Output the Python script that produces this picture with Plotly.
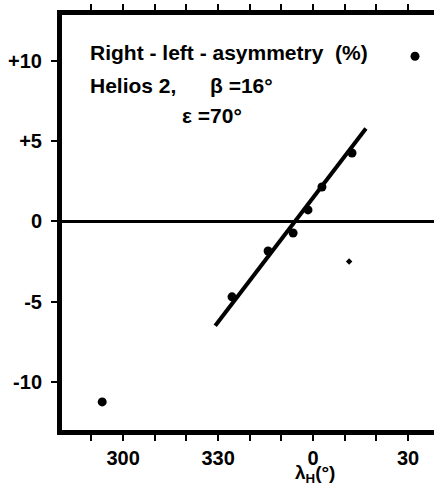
import plotly.graph_objects as go

# Data (ecliptic longitude lambda_H in degrees, asymmetry in %)
lam_obs = [293.4, 334.4, 345.8, 353.7, 358.4, 2.8, 12.3, 32.2]
asym_obs = [-11.25, -4.7, -1.84, -0.72, 0.72, 2.15, 4.27, 10.3]
lam_extra = [11.4]
asym_extra = [-2.5]
fit_lam = [329.1, 16.7]
fit_asym = [-6.5, 5.8]

xtick_vals = [300, 330, 0, 30]
xtick_text = ["300", "330", "0", "30"]
xminor_vals = [290, 310, 320, 340, 350, 10, 20]
ytick_vals = [10, 5, 0, -5, -10]
ytick_text = ["+10", "+5", "0", "-5", "-10"]


def unwrap(l):
    return l + 360 if l < 180 else l


FONT = "Liberation Sans"
TICKFONT = dict(family=FONT, size=20, color="black", weight="bold")

fig = go.Figure()
fig.add_trace(go.Scatter(
    x=[unwrap(v) for v in fit_lam], y=fit_asym, mode="lines",
    line=dict(color="black", width=4), hoverinfo="skip"))
fig.add_trace(go.Scatter(
    x=[unwrap(v) for v in lam_obs], y=asym_obs, mode="markers",
    marker=dict(color="black", size=9)))
fig.add_trace(go.Scatter(
    x=[unwrap(v) for v in lam_extra], y=asym_extra, mode="markers",
    marker=dict(color="black", size=5, symbol="diamond")))

fig.update_layout(
    width=434, height=485,
    margin=dict(l=62, r=0, t=15, b=55),
    paper_bgcolor="white", plot_bgcolor="white",
    showlegend=False,
    font=dict(family=FONT, size=20, color="black"),
)
fig.update_xaxes(
    range=[280.7, 398.2],
    tickmode="array",
    tickvals=[unwrap(v) for v in xtick_vals], ticktext=xtick_text,
    ticks="outside", ticklen=6, tickwidth=2, tickcolor="black",
    minor=dict(tickmode="array", tickvals=[unwrap(v) for v in xminor_vals],
               ticks="outside", ticklen=6, tickwidth=2, tickcolor="black",
               showgrid=False),
    showline=True, linewidth=5, linecolor="black", mirror="ticks",
    showgrid=False, zeroline=False,
    tickfont=TICKFONT,
)
fig.update_yaxes(
    range=[-13.0, 12.87],
    tickvals=ytick_vals, ticktext=ytick_text,
    ticks="outside", ticklen=6, tickwidth=2, tickcolor="black",
    showline=True, linewidth=5, linecolor="black", mirror=False,
    showgrid=False, zeroline=True, zerolinewidth=3, zerolinecolor="black",
    ticklabelstandoff=5,
    tickfont=TICKFONT,
)

ann = dict(showarrow=False, xref="x", yref="y", xanchor="left", yanchor="middle",
           font=dict(family=FONT, size=21, color="black", weight="bold"))
fig.add_annotation(text="Right - left - asymmetry  (%)", x=289, y=10.56, **ann)
fig.add_annotation(text="Helios 2,", x=289, y=8.5, **ann)
fig.add_annotation(text="β =16°", x=326.8, y=8.5, **ann)
fig.add_annotation(text="ε =70°", x=318, y=6.63, **ann)
fig.add_annotation(text="λ<sub>H</sub>(°)", xref="paper", yref="paper",
                   x=(315 - 62) / 372, y=-(474 - 430) / 415, xanchor="center",
                   yanchor="middle", showarrow=False,
                   font=dict(family=FONT, size=19, color="black", weight="bold"))

fig.write_html("out.html")
